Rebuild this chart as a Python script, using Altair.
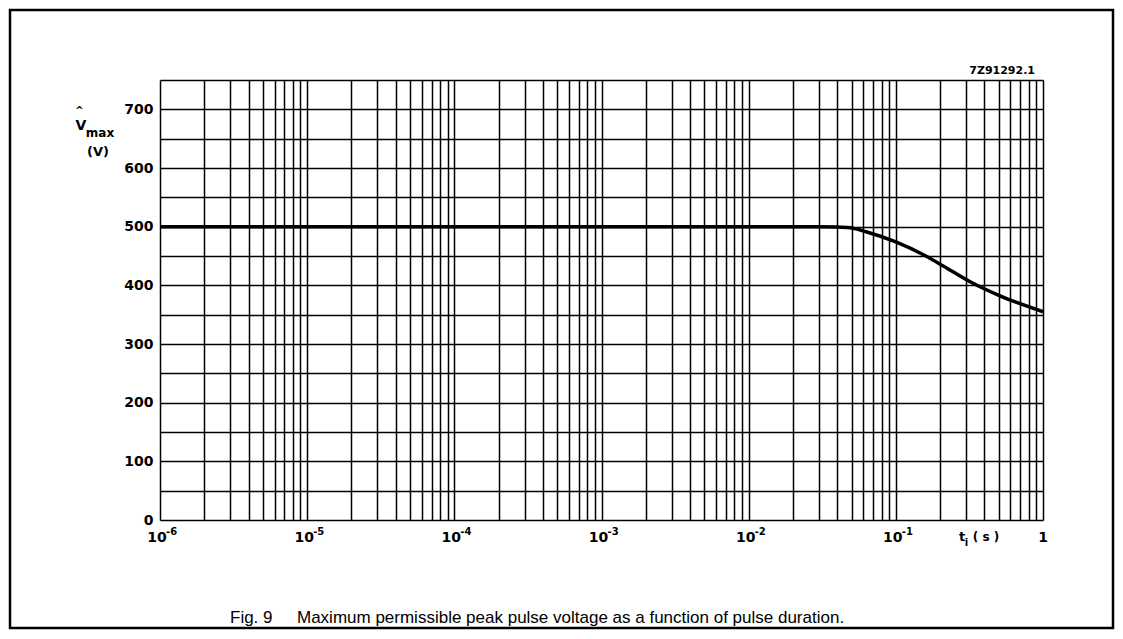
import altair as alt
import pandas as pd

# Curve: pulse duration (s) vs max peak voltage (V)
t_vals = [1e-6, 1e-4, 1e-2, 0.03, 0.04, 0.049, 0.0635, 0.1, 0.16, 0.21, 0.32, 0.51, 1.0]
v_vals = [500, 500, 500, 500, 499.5, 498, 491, 474, 450, 433, 406, 382, 355]

# Grid / tick definitions
x_grid = [k * 10.0 ** e for e in range(-6, 0) for k in range(1, 10)] + [1.0]
x_dec_pos = [1e-6, 1e-5, 1e-4, 1e-3, 1e-2, 1e-1]
x_dec_exp = ["-6", "-5", "-4", "-3", "-2", "-1"]
x_end_pos = [1.0]
x_end_lbl = ["1"]
y_grid = list(range(0, 751, 50))

df = pd.DataFrame({"t": t_vals, "v": v_vals})
dec_df = pd.DataFrame({"t": x_dec_pos, "e": x_dec_exp})
end_df = pd.DataFrame({"t": x_end_pos, "s": x_end_lbl})

FONT = "Liberation Sans"
BFONT = "DejaVu Sans"

xscale = alt.Scale(type="log", domain=[1e-6, 1], nice=False)

line = alt.Chart(df).mark_line(
    color="black", strokeWidth=3.5, interpolate="monotone"
).encode(
    x=alt.X(
        "t:Q", scale=xscale,
        axis=alt.Axis(
            values=x_grid, labels=False, grid=True, ticks=False,
            domain=False, title=None,
            gridColor="black", gridWidth=1.5, gridOpacity=1,
        ),
    ),
    y=alt.Y(
        "v:Q",
        scale=alt.Scale(domain=[0, 750], nice=False),
        axis=alt.Axis(
            values=y_grid,
            labelExpr="(datum.value % 100 == 0 && datum.value <= 700) ? datum.value : ''",
            grid=True, ticks=False, domain=False, title=None,
            labelFont=BFONT, labelFontSize=14, labelFontWeight="bold",
            labelColor="black", labelPadding=7, labelOverlap=False,
            labelFlush=False, labelBound=False,
            gridColor="black", gridWidth=1.5, gridOpacity=1,
        ),
    ),
)

base10 = alt.Chart(dec_df).mark_text(
    text="10", font=BFONT, fontSize=14, fontWeight="bold", color="black",
    align="center", baseline="middle", dx=-3,
).encode(x=alt.X("t:Q", scale=xscale), y=alt.value(458))

expo = alt.Chart(dec_df).mark_text(
    font=BFONT, fontSize=10, fontWeight="bold", color="black",
    align="left", baseline="middle", dx=6, dy=-6,
).encode(x=alt.X("t:Q", scale=xscale), y=alt.value(458), text="e:N")

endlbl = alt.Chart(end_df).mark_text(
    font=BFONT, fontSize=14, fontWeight="bold", color="black",
    align="center", baseline="middle",
).encode(x=alt.X("t:Q", scale=xscale), y=alt.value(458), text="s:N")

one = pd.DataFrame({"a": [0]})


def txt(s, x, y, size=13, weight="bold", align="center", baseline="middle", font=BFONT):
    return alt.Chart(one).mark_text(
        text=s, font=font, fontSize=size, fontWeight=weight, color="black",
        align=align, baseline=baseline,
    ).encode(x=alt.value(x), y=alt.value(y))


labels = [
    txt("^", -80.5, 31, size=10),
    txt("V", -79, 46, size=14),
    txt("max", -60, 53, size=12),
    txt("(V)", -62, 71.5, size=13),
    txt("t", 802, 457, size=13),
    txt("i", 806.5, 463, size=10),
    txt("( s )", 826, 457, size=12),
    txt("7Z91292.1", 875, -9, size=11, align="right"),
    txt("Fig. 9", 70, 538, size=17, weight="normal", align="left", font=FONT),
    txt("Maximum permissible peak pulse voltage as a function of pulse duration.",
        137, 538, size=17, weight="normal", align="left", font=FONT),
]

frame = alt.Chart(one).mark_rect(
    filled=False, stroke="black", strokeWidth=2.5
).encode(
    x=alt.value(-150), x2=alt.value(953), y=alt.value(-70), y2=alt.value(548)
)

chart = alt.layer(line, base10, expo, endlbl, frame, *labels).properties(
    width=883, height=440,
    padding={"left": 152, "top": 72, "right": 72, "bottom": 110},
    autosize="none",
).configure_view(stroke="black", strokeWidth=2).configure(background="white")

chart.save("out.html", embed_options={"renderer": "svg", "actions": False})
